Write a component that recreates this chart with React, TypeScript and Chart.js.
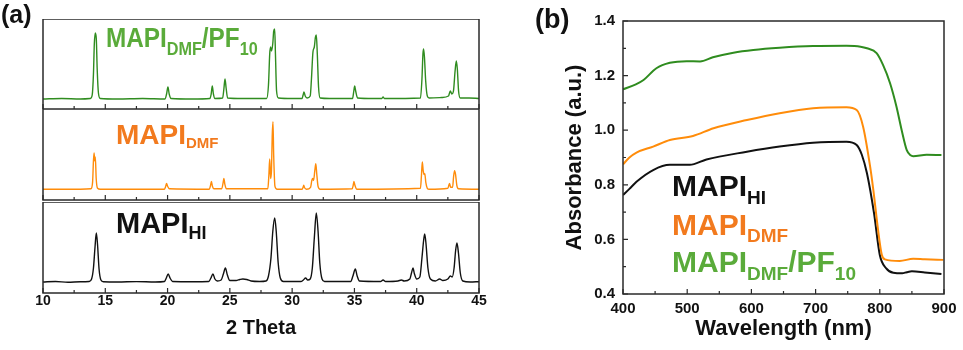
import React, { useEffect, useRef } from "react";
import { Chart, registerables } from "chart.js";

Chart.register(...registerables);

const FONT = "'Liberation Sans', Arial, Helvetica, sans-serif";
Chart.defaults.font.family = FONT;

// ---------- Panel (a): XRD patterns, [2theta, intensity] ----------
const thetaTicks = [10, 15, 20, 25, 30, 35, 40, 45];

const greenXrd: number[][] = [
  [10, 10], [11.5, 10.5], [13, 10], [13.8, 10.5], [13.95, 14], [14.05, 35], [14.12, 65], [14.2, 76], [14.28, 70], [14.35, 40], [14.45, 16], [14.6, 10.5], [16, 10], [18, 10.5],
  [19.8, 10], [19.92, 15], [20.03, 22], [20.13, 15], [20.28, 10.5], [22, 10],
  [23.4, 10.5], [23.5, 15], [23.59, 23], [23.68, 15], [23.8, 10.5],
  [24.42, 11], [24.52, 20], [24.61, 30], [24.7, 21], [24.82, 11], [26, 10.5],
  [27.95, 10.5], [28.1, 24], [28.2, 55], [28.27, 62], [28.35, 58], [28.45, 66], [28.52, 78], [28.6, 80], [28.66, 55], [28.75, 18], [28.9, 11], [30, 10.5],
  [30.8, 10.5], [30.88, 14], [30.95, 17], [31.05, 13], [31.2, 11], [31.45, 13], [31.55, 30], [31.67, 57], [31.78, 62], [31.87, 72], [31.94, 74], [32.02, 55], [32.12, 22], [32.25, 11], [33, 10.5],
  [34.85, 10.5], [34.95, 18], [35.02, 23], [35.1, 18], [35.25, 11], [36.5, 10.5],
  [37.2, 10.5], [37.3, 12], [37.4, 10.5],
  [40.3, 11], [40.42, 30], [40.5, 55], [40.55, 60], [40.62, 52], [40.72, 28], [40.85, 13], [41.0, 11], [42, 11.5],
  [42.55, 13], [42.7, 18], [42.82, 15], [42.95, 18], [43.08, 38], [43.18, 48], [43.26, 40], [43.36, 18], [43.5, 11], [44.2, 11], [45, 10.5],
];

const orangeXrd: number[][] = [
  [10, 11], [13, 11], [13.85, 11.5], [13.98, 18], [14.05, 40], [14.1, 48], [14.15, 40], [14.2, 44], [14.27, 22], [14.38, 12], [14.6, 11],
  [19.75, 11], [19.85, 14], [19.92, 17], [20.0, 14], [20.15, 11.5],
  [23.35, 11], [23.45, 15], [23.52, 19], [23.6, 14], [23.72, 11.5],
  [24.35, 11.5], [24.45, 17], [24.52, 22], [24.6, 16], [24.72, 11.5],
  [28.05, 11.5], [28.13, 25], [28.2, 42], [28.27, 22], [28.34, 30], [28.4, 65], [28.46, 80], [28.52, 45], [28.62, 14], [28.8, 11],
  [30.8, 11], [30.88, 13], [30.93, 15], [31.0, 12.5], [31.15, 11], [31.48, 13], [31.58, 20], [31.65, 22], [31.72, 20], [31.82, 30], [31.9, 37], [31.98, 26], [32.08, 14], [32.25, 11],
  [34.82, 11.5], [34.9, 15], [34.96, 19], [35.04, 15], [35.18, 11],
  [40.3, 12], [40.38, 25], [40.45, 39], [40.52, 30], [40.6, 26], [40.65, 27], [40.73, 18], [40.85, 12], [41.0, 11],
  [42.5, 12], [42.58, 15], [42.64, 17], [42.72, 13], [42.88, 13], [42.96, 24], [43.04, 30], [43.12, 26], [43.22, 15], [43.35, 11.5], [45, 11],
];

const blackXrd: number[][] = [
  [10, 11], [11, 11.5], [12, 10.8], [13, 11.3], [13.7, 11.5], [13.9, 14], [14.05, 25], [14.17, 45], [14.28, 60], [14.38, 48], [14.5, 24], [14.65, 13], [14.85, 11.2], [16, 11], [17.5, 11.4], [19, 11],
  [19.75, 11.5], [19.9, 15], [20.05, 19], [20.2, 15], [20.4, 11.5], [22, 11.3],
  [23.3, 11.5], [23.48, 15], [23.64, 19], [23.8, 14], [24.0, 12], [24.3, 13], [24.48, 19], [24.64, 25], [24.8, 18], [25.0, 12.5],
  [25.5, 12.5], [25.8, 13.5], [26.05, 14], [26.35, 13.5], [26.7, 12], [27.4, 11.5],
  [27.9, 12], [28.1, 17], [28.3, 35], [28.45, 62], [28.6, 75], [28.72, 62], [28.88, 30], [29.05, 15], [29.3, 11.5],
  [30.7, 11.5], [30.9, 13], [31.08, 15], [31.25, 13], [31.45, 14], [31.62, 25], [31.78, 55], [31.94, 80], [32.08, 62], [32.22, 30], [32.4, 14], [32.6, 11.5],
  [34.7, 11.5], [34.88, 17], [35.07, 24], [35.22, 17], [35.4, 12],
  [37.1, 11.5], [37.3, 13], [37.5, 11.5], [38.5, 12], [38.76, 13], [39.0, 12],
  [39.45, 14], [39.58, 20], [39.7, 25], [39.82, 19], [40.0, 14], [40.25, 16], [40.42, 35], [40.55, 52], [40.64, 59], [40.74, 50], [40.9, 25], [41.1, 14], [41.5, 12],
  [41.84, 14], [42.1, 12.5], [42.5, 14], [42.7, 17], [42.85, 16], [43.0, 25], [43.12, 42], [43.23, 50], [43.35, 40], [43.5, 20], [43.7, 12], [44.3, 11], [45, 11.3],
];

// ---------- Panel (b): absorbance, [wavelength nm, absorbance] ----------
const wavelengthTicks = [400, 500, 600, 700, 800, 900];
const absorbanceTicks = [0.4, 0.6, 0.8, 1.0, 1.2, 1.4];

const greenAbs: number[][] = [
  [400, 1.15], [420, 1.168], [432, 1.184], [452, 1.227], [473, 1.247], [499, 1.253], [520, 1.252], [540, 1.267], [572, 1.284], [603, 1.294], [644, 1.302], [696, 1.308], [748, 1.309], [770, 1.306], [780, 1.3], [795, 1.282], [805, 1.239], [816, 1.172], [826, 1.086], [834, 1.001], [842, 0.927], [848, 0.908], [852, 0.905], [873, 0.91], [896, 0.909],
];
const orangeAbs: number[][] = [
  [400, 0.875], [410, 0.9], [421, 0.918], [447, 0.94], [473, 0.964], [509, 0.979], [541, 1.007], [593, 1.037], [644, 1.062], [696, 1.08], [748, 1.084], [764, 1.074], [774, 1.013], [785, 0.866], [790, 0.78], [797, 0.64], [803, 0.545], [808, 0.527], [831, 0.521], [852, 0.529], [870, 0.527], [899, 0.525],
];
const blackAbs: number[][] = [
  [400, 0.763], [410, 0.785], [421, 0.811], [447, 0.854], [473, 0.873], [504, 0.873], [530, 0.893], [593, 0.921], [644, 0.94], [696, 0.954], [748, 0.958], [764, 0.946], [772, 0.91], [780, 0.842], [791, 0.696], [800, 0.543], [810, 0.494], [821, 0.478], [835, 0.476], [842, 0.48], [850, 0.483], [870, 0.479], [896, 0.473],
];

const GREEN_LINE = "#2f8c1f";
const ORANGE_LINE = "#ff8c0a";
const BLACK_LINE = "#111111";
const GREEN_TEXT = "#5aab3a";
const ORANGE_TEXT = "#f27a1e";

function makeFrame(xMajor: number[], yMajor: number[] | null) {
  return {
    id: "frame",
    afterDatasetsDraw(chart: any) {
      const { ctx, chartArea: a, scales } = chart;
      ctx.save();
      ctx.strokeStyle = "#2a2a2a";
      ctx.lineWidth = 1.5;
      ctx.strokeRect(a.left, a.top, a.right - a.left, a.bottom - a.top);
      ctx.lineWidth = 1.2;
      ctx.beginPath();
      const xt = (v: number, len: number) => {
        const p = scales.x.getPixelForValue(v);
        ctx.moveTo(p, a.bottom);
        ctx.lineTo(p, a.bottom - len);
      };
      xMajor.forEach((v, i) => {
        xt(v, 5);
        if (i < xMajor.length - 1) xt((v + xMajor[i + 1]) / 2, 3);
      });
      if (yMajor) {
        const yt = (v: number, len: number) => {
          const p = scales.y.getPixelForValue(v);
          ctx.moveTo(a.left, p);
          ctx.lineTo(a.left + len, p);
        };
        yMajor.forEach((v, i) => {
          yt(v, 5);
          if (i < yMajor.length - 1) yt((v + yMajor[i + 1]) / 2, 3);
        });
      }
      ctx.stroke();
      ctx.restore();
    },
  };
}

function useChart(ref: React.RefObject<HTMLCanvasElement>, build: () => any) {
  useEffect(() => {
    if (!ref.current) return;
    const chart = new Chart(ref.current, build());
    return () => chart.destroy();
  }, []);
}

function XrdPanel(props: { data: number[][]; color: string; top: number; height: number; ymax: number; showAxis: boolean }) {
  const ref = useRef<HTMLCanvasElement>(null);
  const { data, color, top, height, ymax, showAxis } = props;
  useChart(ref, () => ({
    type: "line",
    data: {
      datasets: [
        { data, borderColor: color, borderWidth: 1.4, pointRadius: 0, cubicInterpolationMode: "monotone", fill: false },
      ],
    },
    options: {
      responsive: false,
      maintainAspectRatio: false,
      animation: false,
      events: [],
      layout: { padding: { left: 43, right: 11, top: 0, bottom: 0 } },
      plugins: { legend: { display: false }, tooltip: { enabled: false } },
      scales: {
        x: {
          type: "linear",
          min: 10,
          max: 45,
          display: showAxis,
          afterBuildTicks: (s: any) => {
            s.ticks = thetaTicks.map((v) => ({ value: v }));
          },
          afterFit: (s: any) => {
            s.height = height - 91;
          },
          grid: { display: false, drawTicks: false },
          border: { display: false },
          ticks: { padding: 0, maxRotation: 0, autoSkip: false, color: "#111", font: { size: 14, weight: "bold" } },
          title: { display: true, text: "2 Theta", color: "#111", font: { size: 20, weight: "bold" }, padding: { top: 0, bottom: 10 } },
        },
        y: { type: "linear", min: 0, max: ymax, display: false },
      },
    },
    plugins: [makeFrame(thetaTicks, null)],
  }));
  return (
    <canvas
      ref={ref}
      width={490}
      height={height}
      style={{ position: "absolute", left: 0, top, width: 490, height }}
    />
  );
}

function AbsPanel() {
  const ref = useRef<HTMLCanvasElement>(null);
  useChart(ref, () => ({
    type: "line",
    data: {
      datasets: [
        { data: greenAbs, borderColor: GREEN_LINE, borderWidth: 2, pointRadius: 0, cubicInterpolationMode: "monotone", fill: false },
        { data: orangeAbs, borderColor: ORANGE_LINE, borderWidth: 2, pointRadius: 0, cubicInterpolationMode: "monotone", fill: false },
        { data: blackAbs, borderColor: BLACK_LINE, borderWidth: 2, pointRadius: 0, cubicInterpolationMode: "monotone", fill: false },
      ],
    },
    options: {
      responsive: false,
      maintainAspectRatio: false,
      animation: false,
      events: [],
      layout: { padding: { left: 0, right: 19, top: 21, bottom: 0 } },
      plugins: { legend: { display: false }, tooltip: { enabled: false } },
      scales: {
        x: {
          type: "linear",
          min: 400,
          max: 900,
          afterBuildTicks: (s: any) => {
            s.ticks = wavelengthTicks.map((v) => ({ value: v }));
          },
          afterFit: (s: any) => {
            s.height = 56;
          },
          grid: { display: false, drawTicks: false },
          border: { display: false },
          ticks: { padding: 6, maxRotation: 0, autoSkip: false, color: "#111", font: { size: 15, weight: "bold" } },
          title: { display: true, text: "Wavelength (nm)", color: "#111", font: { size: 22, weight: "bold" }, padding: { top: 0, bottom: 8 } },
        },
        y: {
          type: "linear",
          min: 0.4,
          max: 1.4,
          afterBuildTicks: (s: any) => {
            s.ticks = absorbanceTicks.map((v) => ({ value: v }));
          },
          afterFit: (s: any) => {
            s.width = 133;
          },
          grid: { display: false, drawTicks: false },
          border: { display: false },
          ticks: {
            padding: 8,
            autoSkip: false,
            color: "#111",
            font: { size: 15, weight: "bold" },
            callback: (v: any) => Number(v).toFixed(1),
          },
          title: { display: true, text: "Absorbance (a.u.)", color: "#111", font: { size: 22, weight: "bold" }, padding: { top: 72, bottom: 0 } },
        },
      },
    },
    plugins: [makeFrame(wavelengthTicks, absorbanceTicks)],
  }));
  return (
    <canvas
      ref={ref}
      width={473}
      height={350}
      style={{ position: "absolute", left: 490, top: 0, width: 473, height: 350 }}
    />
  );
}

type Part = { t: string; sub?: boolean };

function Label(props: { parts: Part[]; left: number; top: number; size: number; subSize: number; subOff: number; color: string; scaleX?: number }) {
  const { parts, left, top, size, subSize, subOff, color, scaleX } = props;
  return (
    <div
      style={{
        position: "absolute",
        left,
        top,
        fontFamily: FONT,
        fontWeight: "bold",
        fontSize: size,
        lineHeight: 1,
        color,
        whiteSpace: "nowrap",
        transform: scaleX ? `scaleX(${scaleX})` : undefined,
        transformOrigin: "left top",
      }}
    >
      {parts.map((p, i) =>
        p.sub ? (
          <span key={i} style={{ fontSize: subSize, position: "relative", top: subOff }}>
            {p.t}
          </span>
        ) : (
          <span key={i}>{p.t}</span>
        )
      )}
    </div>
  );
}

const labelHI: Part[] = [{ t: "MAPI" }, { t: "HI", sub: true }];
const labelDMF: Part[] = [{ t: "MAPI" }, { t: "DMF", sub: true }];
const labelPF: Part[] = [{ t: "MAPI" }, { t: "DMF", sub: true }, { t: "/PF" }, { t: "10", sub: true }];

export default function App() {
  return (
    <div style={{ position: "absolute", left: 0, top: 0, width: 963, height: 350, background: "#fff", overflow: "hidden" }}>
      <XrdPanel data={greenXrd} color={GREEN_LINE} top={19} height={90} ymax={90} showAxis={false} />
      <XrdPanel data={orangeXrd} color={ORANGE_LINE} top={109} height={93} ymax={93} showAxis={false} />
      <XrdPanel data={blackXrd} color={BLACK_LINE} top={202} height={148} ymax={91} showAxis={true} />
      <AbsPanel />

      <div style={{ position: "absolute", left: 1, top: 2, fontFamily: FONT, fontWeight: "bold", fontSize: 25, lineHeight: 1, color: "#111" }}>(a)</div>
      <div style={{ position: "absolute", left: 535, top: 6, fontFamily: FONT, fontWeight: "bold", fontSize: 27, lineHeight: 1, color: "#111" }}>(b)</div>

      <Label parts={labelPF} left={106} top={25} size={27} subSize={18} subOff={8} color={GREEN_TEXT} scaleX={0.9} />
      <Label parts={labelDMF} left={116} top={121} size={28} subSize={15} subOff={4} color={ORANGE_TEXT} />
      <Label parts={labelHI} left={116} top={209} size={29} subSize={18} subOff={6} color="#111" />

      <Label parts={labelHI} left={672} top={171} size={30} subSize={19} subOff={8} color="#111" />
      <Label parts={labelDMF} left={672} top={210} size={30} subSize={19} subOff={7} color={ORANGE_TEXT} />
      <Label parts={labelPF} left={672} top={247} size={30} subSize={19} subOff={8} color={GREEN_TEXT} />
    </div>
  );
}
